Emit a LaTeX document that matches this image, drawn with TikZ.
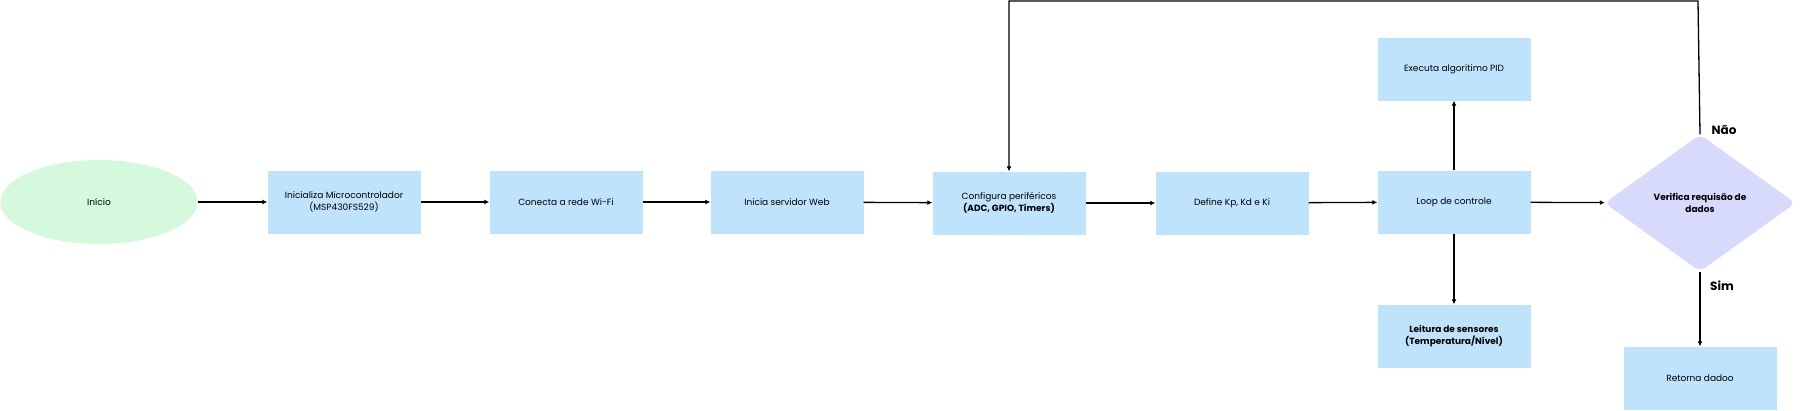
\documentclass[tikz,border=0pt]{standalone}
\usepackage{fontspec}
\setmainfont{Poppins}
\usetikzlibrary{shapes.geometric,arrows.meta}
\definecolor{boxblue}{RGB}{192,227,252}
\definecolor{startgreen}{RGB}{213,249,220}
\definecolor{decpurple}{RGB}{216,218,251}

\begin{document}
\begin{tikzpicture}[x=1pt, y=-1pt,
            every node/.style = {align=center, inner sep=0pt,
                    font=\fontsize{9}{11.5}\selectfont},
            procbox/.style = {shape=rectangle, fill=boxblue,
                    minimum width=153pt, minimum height=63pt},
            startnode/.style = {shape=ellipse, fill=startgreen,
                    minimum width=197pt, minimum height=84pt},
            decnode/.style = {shape=diamond, fill=decpurple, rounded corners=7pt,
                    minimum width=191pt, minimum height=137pt},
            branch/.style = {font=\fontsize{12}{14}\selectfont\bfseries},
            flow/.style = {-{Latex[length=5pt,width=5pt]}, line width=1.3pt}]
        \useasboundingbox (0,0) rectangle (1800,410);
        \node[startnode] (inicio) at (99,202) {Início};
        \node[procbox] (micro) at (344,202) {Inicializa Microcontrolador\\(MSP430FS529)};
        \node[procbox] (wifi) at (566,202) {Conecta a rede Wi-Fi};
        \node[procbox] (web) at (787,202) {Inicia servidor Web};
        \node[procbox] (perif) at (1009,203) {Configura periféricos\\\textbf{(ADC, GPIO, Timers)}};
        \node[procbox] (ganhos) at (1232,203) {Define Kp, Kd e Ki};
        \node[procbox] (loop) at (1454,202) {Loop de controle};
        \node[procbox] (pid) at (1454,69) {Executa algoritimo PID};
        \node[procbox] (sensores) at (1454,336) {\textbf{Leitura de sensores}\\\textbf{(Temperatura/Nível)}};
        \node[decnode] (verif) at (1700,203) {\textbf{Verifica requisão de}\\\textbf{dados}};
        \node[procbox] (retorna) at (1700,378) {Retorna dadoo};
        \coordinate (topo) at (1698,1);

        \draw[flow] (inicio) -- (micro);
        \draw[flow] (micro) -- (wifi);
        \draw[flow] (wifi) -- (web);
        \draw[flow] (web) -- (perif);
        \draw[flow] (perif) -- (ganhos);
        \draw[flow] (ganhos) -- (loop);
        \draw[flow] (loop) -- (pid);
        \draw[flow] (loop) -- (sensores);
        \draw[flow] (loop) -- (verif);
        \draw[flow] (verif) -- (retorna);
        \draw[flow] (verif.north) -- (topo) -| (perif.north);
        \node[branch] (nao) at (1724,130) {Não};
        \node[branch] (sim) at (1722,286) {Sim};
    \end{tikzpicture}
\end{document}
